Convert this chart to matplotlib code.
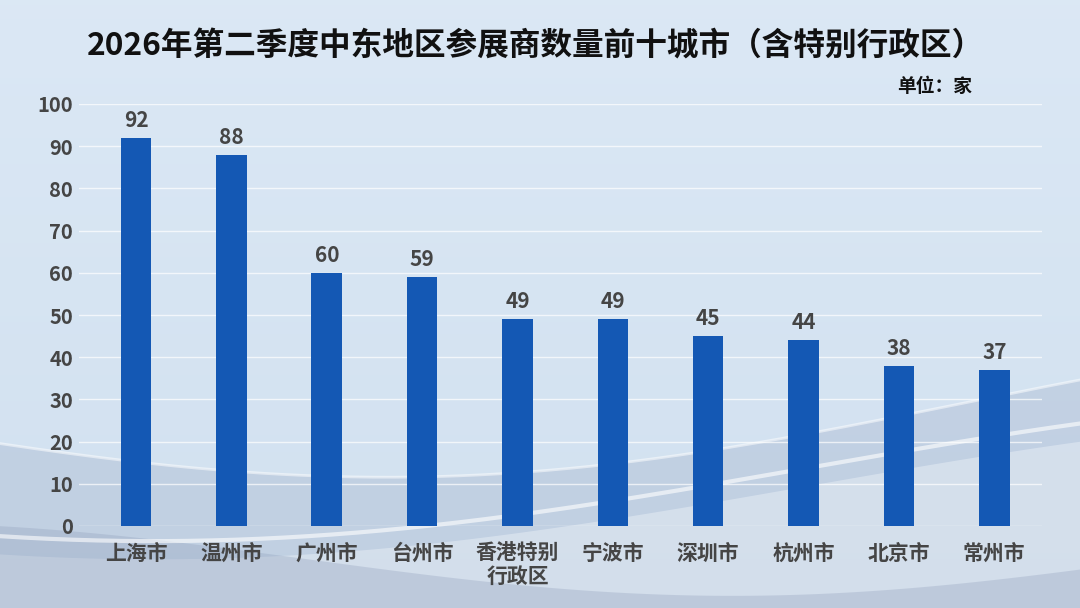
import numpy as np
import matplotlib
matplotlib.use("Agg")
import matplotlib.pyplot as plt

plt.rcParams['font.family'] = ['Noto Sans CJK SC', 'DejaVu Sans']

title = "2026年第二季度中东地区参展商数量前十城市（含特别行政区）"
unit = "单位：家"
cities = ["上海市", "温州市", "广州市", "台州市", "香港特别\n行政区", "宁波市", "深圳市", "杭州市", "北京市", "常州市"]
counts = [92, 88, 60, 59, 49, 49, 45, 44, 38, 37]
yticks = [0, 10, 20, 30, 40, 50, 60, 70, 80, 90, 100]

W, H = 1080, 608
fig = plt.figure(figsize=(W / 100, H / 100), dpi=100)

# background gradient and soft waves
bg = fig.add_axes([0, 0, 1, 1], zorder=0)
bg.set_xlim(0, 1); bg.set_ylim(0, 1); bg.axis('off')
yy = np.linspace(0, 1, 300)[:, None]
xx = np.linspace(0, 1, 400)[None, :]
top = np.array([0.86, 0.91, 0.96])
bot = np.array([0.82, 0.88, 0.94])
t = np.clip(yy + 0 * xx, 0, 1)
img = bot[None, None, :] * (1 - t[..., None]) + top[None, None, :] * t[..., None]
bg.imshow(img, extent=[0, 1, 0, 1], origin='lower', aspect='auto')
xs = np.linspace(0, 1, 400)
w1 = 0.30 - 0.10 * np.sin(xs * 3.2 + 0.3) + 0.04 * xs
bg.fill_between(xs, 0, w1, color='#9aa9c4', alpha=0.30, lw=0)
w2 = 0.20 - 0.12 * np.sin(xs * 2.6 + 1.2)
bg.fill_between(xs, 0, w2, color='#f2f6fb', alpha=0.40, lw=0)
w3 = 0.08 + 0.06 * np.sin(xs * 4.0 + 2.0)
bg.fill_between(xs, 0, w3, color='#8d9bb8', alpha=0.30, lw=0)
bg.plot(xs, w1, color='white', alpha=0.5, lw=2)
bg.plot(xs, w2 + 0.03, color='white', alpha=0.6, lw=3)

left, right = 78.8 / W, 1042 / W
bottom_px, top_px = 526, 104
ax = fig.add_axes([left, 1 - bottom_px / H, right - left, (bottom_px - top_px) / H], zorder=1)
ax.patch.set_alpha(0)
x = np.arange(len(cities))
bars = ax.bar(x, counts, width=0.32, color='#1458b4', zorder=3)
ax.set_xlim(-0.6, 9.5)
ax.set_ylim(0, 100)
ax.set_yticks(yticks)
ax.yaxis.grid(True, color='white', alpha=0.7, lw=1, zorder=0)
for s in ax.spines.values():
    s.set_visible(False)
ax.tick_params(axis='both', length=0)
ax.tick_params(axis='y', labelsize=14.5, labelcolor='#454545', pad=4)
ax.set_xticks(x)
ax.set_xticklabels(cities, fontsize=15, color='#454545', fontweight='bold', linespacing=1.15)
ax.tick_params(axis='x', pad=12)
for lab in ax.get_yticklabels():
    lab.set_fontweight('bold')
for xi, v in zip(x, counts):
    ax.annotate(str(v), (xi, v), xytext=(0, 5), textcoords='offset points',
                ha='center', va='bottom', fontsize=15, fontweight='bold', color='#454545')

fig.text(535 / W, 1 - 47 / H, title, ha='center', va='center', fontsize=22.8, fontweight='bold', color='#111111')
fig.text(935 / W, 1 - 86 / H, unit, ha='center', va='center', fontsize=13.5, fontweight='bold', color='#111111')

fig.savefig("out.png", dpi=100)
